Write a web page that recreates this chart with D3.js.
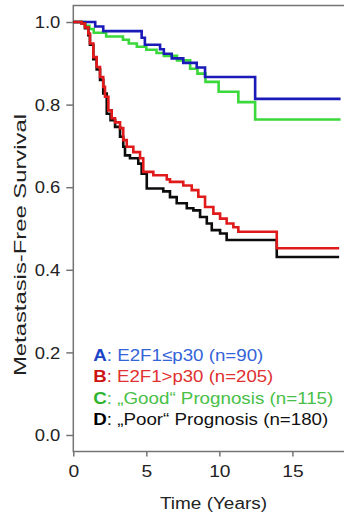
<!DOCTYPE html>
<html>
<head>
<meta charset="utf-8">
<script src="https://cdn.jsdelivr.net/npm/d3@7"></script>
<style>
  html, body { margin: 0; padding: 0; background: #fff; }
  svg { display: block; font-family: "Liberation Sans", Arial, Helvetica, sans-serif; }
</style>
</head>
<body>
<svg id="chart" width="344" height="518"></svg>
<script>
// Kaplan–Meier step data: event times (years) and survival right after each step
const timesA = [0, 1.5, 2.05, 4.68, 4.9, 5.94, 6.2, 6.74, 7.53, 8.45, 9.02, 12.45];
const survA  = [1.0, 0.989, 0.978, 0.962, 0.945, 0.934, 0.923, 0.912, 0.901, 0.890, 0.867, 0.814];

const timesB = [0, 0.58, 0.8, 1.03, 1.14, 1.37, 1.6, 1.83, 2.05, 2.17, 2.4, 2.63, 2.86, 3.2, 3.42, 3.66,
                4.11, 4.57, 4.79, 5.48, 6.4, 6.62, 7.53, 8.11, 8.56, 9.02, 9.59, 10.05, 10.5, 10.96, 11.3, 13.93];
const survB  = [1.0, 0.996, 0.987, 0.972, 0.948, 0.915, 0.891, 0.867, 0.843, 0.819, 0.786, 0.767, 0.757, 0.743, 0.714, 0.698,
                0.685, 0.670, 0.637, 0.629, 0.619, 0.613, 0.604, 0.593, 0.577, 0.552, 0.536, 0.524, 0.512, 0.503, 0.492, 0.452];

const timesC = [0, 0.8, 1.1, 1.4, 2.25, 3.4, 3.8, 4.35, 5.0, 5.7, 6.2, 7.1, 8.0, 8.5, 9.05, 9.95, 11.3, 12.45];
const survC  = [1.0, 0.991, 0.983, 0.974, 0.965, 0.957, 0.948, 0.940, 0.933, 0.925, 0.918, 0.907, 0.887, 0.875, 0.855, 0.831, 0.806, 0.764];

const timesD = [0, 0.58, 0.8, 1.03, 1.14, 1.37, 1.6, 1.83, 2.05, 2.29, 2.55, 2.86, 3.2, 3.42, 3.54, 3.88,
                4.45, 4.68, 5.03, 6.16, 6.62, 7.08, 7.77, 8.22, 8.68, 9.14, 9.48, 10.05, 10.5, 13.93];
const survD  = [1.0, 0.996, 0.985, 0.968, 0.945, 0.910, 0.885, 0.860, 0.827, 0.778, 0.762, 0.746, 0.722, 0.698, 0.677, 0.670,
                0.657, 0.633, 0.597, 0.590, 0.576, 0.561, 0.549, 0.544, 0.528, 0.512, 0.496, 0.488, 0.472, 0.431];

// end of follow-up for each group (years)
const followUp = { A: 18.3, B: 18.2, C: 18.3, D: 18.2 };

const groupKeys   = ["A", "B", "C", "D"];
const legendTexts = [": E2F1\u2264p30 (n=90)", ": E2F1>p30 (n=205)", ": \u201EGood\u201C Prognosis (n=115)", ": \u201EPoor\u201C Prognosis (n=180)"];
const xTicks = [0, 5, 10, 15];
const yTicks = [0.0, 0.2, 0.4, 0.6, 0.8, 1.0];
const xTitle = "Time (Years)";
const yTitle = "Metastasis-Free Survival";

const lineColors = { A: "#1a1ab8", B: "#e01a1a", C: "#3ad83a", D: "#0c0c0c" };
const textColors = { A: "#3563d8", B: "#e03030", C: "#48c048", D: "#111111" };
const keyColors  = { A: "#1c44c8", B: "#cc1414", C: "#30b430", D: "#000000" };

const series = {
  A: timesA.map((t, i) => [t, survA[i]]),
  B: timesB.map((t, i) => [t, survB[i]]),
  C: timesC.map((t, i) => [t, survC[i]]),
  D: timesD.map((t, i) => [t, survD[i]])
};

const svg = d3.select("#chart");

const x = d3.scaleLinear().domain([0, 19.15]).range([73.3, 353]);
const y = d3.scaleLinear().domain([-0.04, 1.04]).range([451.5, 5.5]);

const axisColor = "#747474";

// plot frame
svg.append("rect")
  .attr("x", x(0)).attr("y", y(1.04))
  .attr("width", x(19.15) - x(0)).attr("height", y(-0.04) - y(1.04))
  .attr("fill", "none").attr("stroke", axisColor).attr("stroke-width", 1.5);

function stretch(sel, factor) {
  sel.each(function () {
    const w = this.getComputedTextLength();
    d3.select(this).attr("textLength", w * factor).attr("lengthAdjust", "spacingAndGlyphs");
  });
}

// y axis
const gy = svg.append("g")
  .attr("transform", `translate(${x(0)},0)`)
  .call(d3.axisLeft(y).tickValues(yTicks).tickSize(7).tickPadding(6).tickFormat(d3.format(".1f")))
  .attr("font-family", null).attr("font-size", 16);
gy.select(".domain").remove();
gy.selectAll(".tick line").attr("stroke", axisColor).attr("stroke-width", 1.5);
gy.selectAll(".tick text").attr("fill", "#222").attr("dy", "0.36em");
stretch(gy.selectAll(".tick text"), 1.15);

// x axis
const gx = svg.append("g")
  .attr("transform", `translate(0,${y(-0.04)})`)
  .call(d3.axisBottom(x).tickValues(xTicks).tickSize(5).tickPadding(9))
  .attr("font-family", null).attr("font-size", 16);
gx.select(".domain").remove();
gx.selectAll(".tick line").attr("stroke", axisColor).attr("stroke-width", 1.5);
gx.selectAll(".tick text").attr("fill", "#222");
stretch(gx.selectAll(".tick text"), 1.2);

// axis titles
svg.append("text")
  .attr("x", 213.5).attr("y", 508.5)
  .attr("text-anchor", "middle").attr("font-size", 16).attr("fill", "#222")
  .attr("textLength", 107).attr("lengthAdjust", "spacingAndGlyphs")
  .text(xTitle);

svg.append("text")
  .attr("transform", "translate(25.5,245) rotate(-90)")
  .attr("text-anchor", "middle").attr("font-size", 17).attr("fill", "#222")
  .attr("textLength", 262).attr("lengthAdjust", "spacingAndGlyphs")
  .text(yTitle);

// survival curves
const line = d3.line()
  .x(d => x(d[0]))
  .y(d => y(d[1]))
  .curve(d3.curveStepAfter);

["C", "A", "D", "B"].forEach(k => {
  const pts = series[k].slice();
  pts.push([followUp[k], pts[pts.length - 1][1]]);
  svg.append("path")
    .datum(pts)
    .attr("d", line)
    .attr("fill", "none")
    .attr("stroke", lineColors[k])
    .attr("stroke-width", 2.6)
    .attr("stroke-linejoin", "miter");
});

// legend
const legendWidths = [170, 180, 240, 235];
groupKeys.forEach((k, i) => {
  const t = svg.append("text")
    .attr("x", 93.3).attr("y", 360.7 + i * 21.5)
    .attr("font-size", 16.5)
    .attr("textLength", legendWidths[i]).attr("lengthAdjust", "spacingAndGlyphs");
  t.append("tspan").attr("font-weight", "bold").attr("fill", keyColors[k]).text(k);
  t.append("tspan").attr("fill", textColors[k]).text(legendTexts[i]);
});
</script>
</body>
</html>
